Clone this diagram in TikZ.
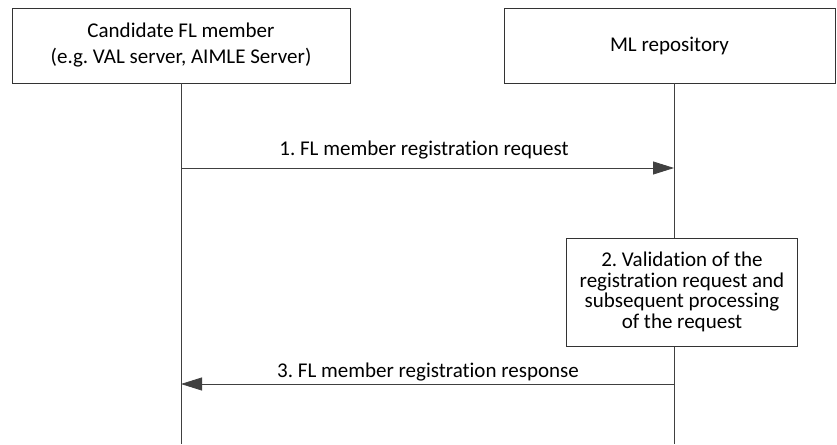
\documentclass[tikz,border=0pt]{standalone}
\usepackage{fontspec}
\setmainfont{Carlito}[Ligatures=NoCommon]
\usetikzlibrary{arrows.meta}
\begin{document}
\frenchspacing
\begin{tikzpicture}[x=1pt,y=-1pt,
  entity/.style={draw=black!80,line width=0.8pt,align=center,font=\fontsize{21}{26}\selectfont,inner sep=0pt},
  procbox/.style={draw=black!80,line width=0.8pt,align=center,font=\fontsize{21}{20.5}\selectfont,inner sep=0pt},
  lifeline/.style={draw=black!75,line width=0.8pt},
  msg/.style={draw=black!75,line width=0.8pt,-{Triangle[length=21pt,width=13pt,fill=black!75]}},
  msglabel/.style={font=\fontsize{21}{22}\selectfont,anchor=base}]
\useasboundingbox (0,0) rectangle (837,444);
\node[entity,minimum width=338pt,minimum height=75pt] (cand) at (181,45.5) {Candidate FL member\\(e.g. VAL server, AIMLE Server)};
\node[entity,minimum width=331pt,minimum height=75pt] (repo) at (669.5,45.5) {ML repository};
\coordinate (candtop) at (181,83);
\coordinate (candbot) at (181,444);
\coordinate (repotop) at (674,83);
\coordinate (repobot) at (674,444);
\draw[lifeline] (candtop) -- (candbot);
\draw[lifeline] (repotop) -- (repobot);
\coordinate (m1s) at (181,168);
\coordinate (m1e) at (674,168);
\draw[msg] (m1s) -- (m1e);
\node[msglabel] (l1) at (424,155) {1. FL member registration request};
\node[procbox,fill=white,minimum width=231pt,minimum height=108pt] (proc) at (682,292) {2. Validation of the\\registration request and\\subsequent processing\\of the request};
\coordinate (m3s) at (674,384);
\coordinate (m3e) at (181,384);
\draw[msg] (m3s) -- (m3e);
\node[msglabel] (l3) at (428,377) {3. FL member registration response};
\end{tikzpicture}
\end{document}
